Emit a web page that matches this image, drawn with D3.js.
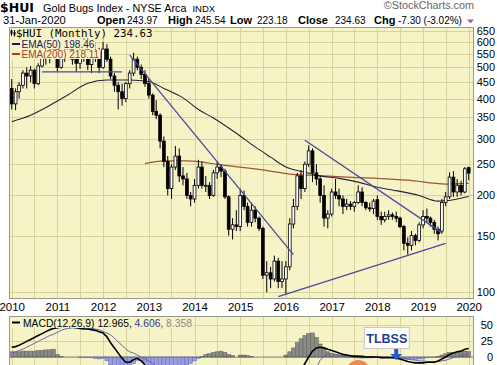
<!DOCTYPE html>
<html>
<head>
<meta charset="utf-8">
<script src="https://cdn.jsdelivr.net/npm/d3@7"></script>
<style>
  body { margin: 0; background: #fff; }
  svg { display: block; font-family: "Liberation Sans", Arial, sans-serif; }
</style>
</head>
<body>
<svg id="chart" width="497" height="365"></svg>
<script>
// ---- data (monthly, Jan 2010 .. Jan 2020) ----
const firstMonth = "2010-01";
const lastMonth = "2020-01";

const open = [
  430,385,420,440,480,470,490,445,505,540,545,560,
  570,500,555,550,575,530,515,560,600,510,550,560,
  500,570,530,470,440,420,400,445,480,530,500,475,
  445,410,365,355,295,255,210,245,265,230,225,200,
  195,215,245,215,215,200,235,245,238,198,157,162,
  160,200,185,165,180,170,158,113,115,110,125,108,
  110,120,163,185,230,210,250,275,235,225,200,170,
  175,205,200,195,185,188,185,190,205,190,183,182,
  194,172,168,172,174,172,170,160,142,140,150,145,
  162,172,170,165,157,155,190,198,228,205,215,205,
  243.97];
const high = [
  460,430,450,490,500,505,495,515,545,560,575,580,
  580,560,570,590,580,540,575,630,640,560,600,575,
  600,590,540,480,450,445,450,490,555,540,510,490,
  460,415,395,360,305,265,250,285,280,245,235,205,
  225,258,255,230,220,240,255,250,242,200,170,180,
  210,207,190,190,185,172,160,125,120,130,128,125,
  125,170,195,235,240,255,286,280,250,230,215,180,
  210,225,210,200,195,192,192,215,212,192,190,195,
  200,178,178,180,177,178,172,162,148,155,152,165,
  180,182,172,168,160,195,205,236,238,225,222,245,
  245.54];
const low = [
  370,368,400,430,430,450,430,440,500,510,515,540,
  485,495,520,530,510,485,495,520,490,480,520,480,
  495,520,460,420,370,380,390,430,470,490,460,435,
  400,355,345,280,245,200,195,240,220,215,195,185,
  190,210,210,205,195,198,225,228,195,150,146,155,
  155,180,160,160,165,155,110,100,103,108,103,103,
  99,117,158,180,195,205,245,220,215,190,160,158,
  172,195,185,175,180,180,178,188,185,180,178,175,
  168,162,165,168,168,165,158,135,131,135,140,143,
  158,165,160,152,145,152,185,195,198,198,200,203,
  223.18];
const close = [
  385,420,440,480,470,490,445,505,540,545,560,570,
  500,555,550,575,530,515,560,600,510,550,560,500,
  570,530,470,440,420,400,445,480,530,500,475,445,
  410,365,355,295,255,210,245,265,230,225,200,195,
  215,245,215,215,200,235,245,238,198,157,162,160,
  200,185,165,180,170,158,113,115,110,125,108,110,
  120,163,185,230,210,250,275,235,225,200,170,175,
  205,200,195,185,188,185,190,205,190,183,182,192,
  172,168,172,174,172,170,160,142,140,150,145,162,
  172,170,165,157,152,190,198,228,205,215,205,241.93,
  234.63];

// moving averages
const ema50Dates = ["2010-01","2010-06","2011-03","2011-09","2012-02","2012-08","2013-01","2013-05",
  "2013-10","2014-02","2014-06","2014-12","2015-05","2015-09","2016-01","2016-06","2016-10",
  "2017-03","2017-08","2018-01","2018-05","2018-12","2019-05","2019-09","2020-01"];
const ema50Values = [339,355,405,446,457,457,452,430,402,370,348,312,283,263,245,236,230,226,220,212,208,200,192,194,198.46];

const ema200Dates = ["2012-12","2013-05","2013-11","2014-08","2015-07","2016-02","2016-08","2017-05",
  "2018-01","2018-09","2019-07","2020-01"];
const ema200Values = [251,256,256,249,240,233,231,228,226,223,217,218.11];

// hand drawn trend lines: [start date, start value, end date, end value]
const trendLines = [
  ["2010-09", 484, "2012-06", 484],
  ["2012-08", 546, "2016-03", 131],
  ["2016-06", 297, "2019-06", 153],
  ["2015-11", 97, "2019-07", 142]
];

// MACD(12,26,9)
const macd = [
  15,16,18,21,24,27,30,33,36,39,42,44,
  45,46,46,46,46,45,44,43,43,42,41,39,
  37,31,22,14,6,-2,-8,-8,-4,-2,-6,-12,
  -18,-25,-32,-42,-50,-58,-62,-63,-64,-64,-65,-66,
  -64,-60,-56,-52,-49,-45,-42,-40,-40,-42,-44,-46,
  -45,-45,-46,-47,-48,-49,-51,-54,-57,-58,-60,-62,
  -58,-50,-40,-30,-20,-10,0,9,14,15,14,12,
  10,8,6,4,3,2,1,1,0.5,0,0,0,
  0,-1,-1,-1,-1,-2,-3,-5,-7,-8,-9,-9,
  -9,-8,-8,-8,-6,-3,0,4,6,8,9,12,
  12.965];
const signal = [
  6,8,10,12,15,18,21,24,27,30,33,35,
  38,41,43,44,45,45,45,45,44,44,43,42,
  39,37,34,29,23,18,12,8,6,3,0,-3,
  -6,-10,-14,-20,-26,-32,-38,-43,-47,-50,-53,-56,
  -58,-58,-57,-56,-54,-52,-50,-49,-47,-46,-46,-46,
  -48,-48,-48,-48,-48,-49,-50,-53,-56,-57,-59,-62,
  -61,-58,-54,-52,-48,-43,-36,-28,-16,-5,1,4,
  6,4,3,1,0,0,-1,-1,-1.5,-1,-1,-1,
  0,0,-0.5,-0.5,-1,-1,-1.5,-2,-3,-4,-5,-6,
  -6,-7,-7,-7,-7,-6,-5,-3,-1,1,2,3,
  4.606];
const histogram = [
  8,8,8,9,9,9,9,10,10,11,11,12,
  4,1,0,0,0,0,-1,-1,-1,-1,-2,-3,
  -2,-6,-12,-15,-17,-20,-20,-16,-10,-5,-6,-9,
  -12,-15,-18,-22,-24,-26,-24,-20,-17,-14,-12,-10,
  -6,-2,1,4,5,7,8,9,7,4,2,0,
  3,3,2,1,0,0,0,0,0,0,0,0,
  3,8,14,22,28,33,36,37,30,20,13,8,
  4,4,3,3,3,2,2,2,2,1,1,1,
  0,-1,-0.5,-0.5,0,-1,-1.5,-3,-4,-4,-4,-3,
  -3,-1,-1,-1,1,3,5,7,7,7,7,9,
  8.358];

const priceTicks = [100,150,200,250,300,350,400,450,500,550,600,650];
const macdTicks = [0,25,50];

// ---- layout ----
const W = 497, H = 365;
const mainP = { left: 9, right: 474, top: 27, bottom: 299 };
const macdP = { left: 9, right: 474, top: 316, bottom: 385 };
const panelBg = "#f6f3c6";
const gridColor = "#d8d29c";
const frameColor = "#9a9a8a";

const parseMonth = d3.timeParse("%Y-%m");
const months = d3.timeMonth.range(parseMonth(firstMonth), d3.timeMonth.offset(parseMonth(lastMonth), 1));

const x = d3.scaleTime()
    .domain([parseMonth("2010-01"), parseMonth("2020-01")])
    .range([11.7, 468.7]);

const y = d3.scaleLog()
    .domain([100, 650])
    .range([292.3, 30.7]);

const yM = d3.scaleLinear()
    .domain([0, 50])
    .range([357, 324.5]);

const svg = d3.select("#chart");
svg.append("rect").attr("width", W).attr("height", H).attr("fill", "#fff");

const defs = svg.append("defs");
[["clipMain", mainP], ["clipMacd", macdP]].forEach(([id, p]) => {
    defs.append("clipPath").attr("id", id)
        .append("rect")
        .attr("x", p.left).attr("y", p.top)
        .attr("width", p.right - p.left).attr("height", p.bottom - p.top);
});

// panel backgrounds
[mainP, macdP].forEach(p => {
    svg.append("rect")
        .attr("x", p.left).attr("y", p.top)
        .attr("width", p.right - p.left).attr("height", p.bottom - p.top)
        .attr("fill", panelBg);
});

// vertical grid every six months, both panels
const halfYears = d3.timeMonth.every(6).range(parseMonth("2010-01"), parseMonth("2020-02"));
[mainP, macdP].forEach(p => {
    svg.append("g").selectAll("line")
        .data(halfYears)
        .enter().append("line")
        .attr("x1", d => Math.round(x(d)) + 0.5).attr("x2", d => Math.round(x(d)) + 0.5)
        .attr("y1", p.top).attr("y2", p.bottom)
        .attr("stroke", gridColor).attr("stroke-width", 1);
});

// horizontal grid
svg.append("g").selectAll("line")
    .data(priceTicks)
    .enter().append("line")
    .attr("x1", mainP.left).attr("x2", mainP.right)
    .attr("y1", d => Math.round(y(d)) + 0.5).attr("y2", d => Math.round(y(d)) + 0.5)
    .attr("stroke", gridColor);

svg.append("g").selectAll("line")
    .data(macdTicks)
    .enter().append("line")
    .attr("x1", macdP.left).attr("x2", macdP.right)
    .attr("y1", d => Math.round(yM(d)) + 0.5).attr("y2", d => Math.round(yM(d)) + 0.5)
    .attr("stroke", gridColor);

// ---- price panel ----
const gMain = svg.append("g").attr("clip-path", "url(#clipMain)");

const ema200Line = d3.line()
    .x((d, i) => x(parseMonth(ema200Dates[i])))
    .y(d => y(d))
    .curve(d3.curveMonotoneX);
gMain.append("path")
    .datum(ema200Values)
    .attr("d", ema200Line)
    .attr("fill", "none")
    .attr("stroke", "#a0523a")
    .attr("stroke-width", 1.2);

const ema50Line = d3.line()
    .x((d, i) => x(parseMonth(ema50Dates[i])))
    .y(d => y(d))
    .curve(d3.curveMonotoneX);
gMain.append("path")
    .datum(ema50Values)
    .attr("d", ema50Line)
    .attr("fill", "none")
    .attr("stroke", "#23233f")
    .attr("stroke-width", 1.1);

// candles
const candleW = 2.8;
const candles = gMain.append("g").selectAll("g")
    .data(months)
    .enter().append("g");

candles.append("line")
    .attr("x1", d => x(d)).attr("x2", d => x(d))
    .attr("y1", (d, i) => y(high[i])).attr("y2", (d, i) => y(low[i]))
    .attr("stroke", "#000").attr("stroke-width", 1);

candles.append("rect")
    .attr("x", d => x(d) - candleW / 2)
    .attr("y", (d, i) => y(Math.max(open[i], close[i])))
    .attr("width", candleW)
    .attr("height", (d, i) => Math.max(1, Math.abs(y(open[i]) - y(close[i]))))
    .attr("fill", (d, i) => close[i] >= open[i] ? "#fff" : "#000")
    .attr("stroke", "#000")
    .attr("stroke-width", 0.8);

// trend lines
gMain.append("g").selectAll("line")
    .data(trendLines)
    .enter().append("line")
    .attr("x1", d => x(parseMonth(d[0]))).attr("y1", d => y(d[1]))
    .attr("x2", d => x(parseMonth(d[2]))).attr("y2", d => y(d[3]))
    .attr("stroke", "#4a4a9e")
    .attr("stroke-width", 1.3);

// price legend (opaque background like the original)
const legend = svg.append("g");
function legendRow(gy, parts, dash, size) {
    const g = legend.append("g");
    const bg = g.append("rect").attr("fill", panelBg);
    if (dash) {
        g.append("line").attr("x1", 12).attr("x2", 20).attr("y1", gy - 3.5).attr("y2", gy - 3.5)
            .attr("stroke", dash).attr("stroke-width", 2);
    }
    const t = g.append("text").attr("x", dash ? 21.5 : 16).attr("y", gy).attr("font-size", size);
    parts.forEach(p => t.append("tspan").text(p.text).attr("fill", p.color)
        .attr("font-family", p.font || null));
    const bb = t.node().getBBox();
    bg.attr("x", 10).attr("y", gy - 8).attr("width", bb.x + bb.width - 9).attr("height", 9.5);
    return g;
}
const mono = "'DejaVu Sans Mono', monospace";
const row0 = legendRow(37, [{ text: "$HUI (Monthly) 234.63", color: "#000", font: mono }], null, 10.8);
row0.append("line").attr("x1", 11.5).attr("x2", 11.5).attr("y1", 29.5).attr("y2", 36).attr("stroke", "#000");
row0.append("rect").attr("x", 10.5).attr("y", 30.5).attr("width", 2).attr("height", 3.5).attr("fill", "#000");
row0.append("line").attr("x1", 14.5).attr("x2", 14.5).attr("y1", 30).attr("y2", 36.5).attr("stroke", "#000");
row0.append("rect").attr("x", 13.5).attr("y", 32).attr("width", 2).attr("height", 3).attr("fill", "#000");
legendRow(47.5, [{ text: "EMA(50) 198.46", color: "#1a1a5a" }], "#1a1a5a", 10);
legendRow(57.5, [{ text: "EMA(200) 218.11", color: "#a0402a" }], "#a0402a", 10);

// ---- MACD panel ----
const gMacd = svg.append("g").attr("clip-path", "url(#clipMacd)");
const barW = x(months[1]) - x(months[0]);

gMacd.append("g").selectAll("rect")
    .data(months)
    .enter().append("rect")
    .attr("x", d => x(d) - barW / 2)
    .attr("width", barW)
    .attr("y", (d, i) => histogram[i] >= 0 ? yM(histogram[i]) : yM(0))
    .attr("height", (d, i) => Math.abs(yM(histogram[i]) - yM(0)))
    .attr("fill", (d, i) => histogram[i] >= 0 ? "#8a8a86" : "#9c9ce0")
    .attr("stroke", (d, i) => histogram[i] >= 0 ? "#5e5e5a" : "#6a6ab8")
    .attr("stroke-width", 0.5);

gMacd.append("line")
    .attr("x1", macdP.left).attr("x2", macdP.right)
    .attr("y1", yM(0)).attr("y2", yM(0))
    .attr("stroke", "#555").attr("stroke-width", 0.6);

gMacd.append("path")
    .datum(signal)
    .attr("d", d3.line().x((d, i) => x(months[i])).y(d => yM(d)))
    .attr("fill", "none").attr("stroke", "#6a62b0").attr("stroke-width", 1);

gMacd.append("path")
    .datum(macd)
    .attr("d", d3.line().x((d, i) => x(months[i])).y(d => yM(d)))
    .attr("fill", "none").attr("stroke", "#000").attr("stroke-width", 1.6);

// annotation circle near the MACD zero cross
gMacd.append("circle")
    .attr("cx", x(parseMonth("2017-08")))
    .attr("cy", yM(-23))
    .attr("r", 12)
    .attr("fill", "#f0894e");

// TLBSS call-out
const tlX = x(parseMonth("2018-06"));
const tl = svg.append("g");
tl.append("rect")
    .attr("x", tlX - 32).attr("y", 327.5)
    .attr("width", 45).attr("height", 21)
    .attr("fill", "#fff").attr("stroke", "#c8c8c8");
tl.append("text")
    .attr("x", tlX - 9.5).attr("y", 342.5)
    .attr("text-anchor", "middle")
    .attr("font-size", 12.5).attr("font-weight", "bold")
    .attr("fill", "#1f3c94")
    .text("TLBSS");
tl.append("path")
    .attr("d", `M${tlX - 2},349 h4 v5 h4 l-6,6 l-6,-6 h4 z`)
    .attr("fill", "#1e5cd6");

// MACD legend
const ml = svg.append("g");
const mlBg = ml.append("rect").attr("fill", panelBg);
ml.append("line").attr("x1", 12).attr("x2", 20).attr("y1", 322.5).attr("y2", 322.5)
    .attr("stroke", "#000").attr("stroke-width", 2);
const mt = ml.append("text").attr("x", 23).attr("y", 327).attr("font-size", 10.3);
mt.append("tspan").text("MACD(12,26,9) 12.965, ").attr("fill", "#000");
mt.append("tspan").text("4.606, ").attr("fill", "#3a3a8a");
mt.append("tspan").text("8.358").attr("fill", "#8a8a8a");
const mlb = mt.node().getBBox();
mlBg.attr("x", 10).attr("y", 317).attr("width", mlb.x + mlb.width - 9).attr("height", 11);

// panel frames
[mainP, macdP].forEach(p => {
    svg.append("rect")
        .attr("x", p.left + 0.5).attr("y", p.top + 0.5)
        .attr("width", p.right - p.left - 1).attr("height", p.bottom - p.top - 1)
        .attr("fill", "none").attr("stroke", frameColor);
});

// ---- axes ----
const yAxis = svg.append("g")
    .attr("transform", `translate(${W - 2},0)`)
    .call(d3.axisLeft(y).tickValues(priceTicks).tickFormat(d3.format("d")).tickSize(0).tickPadding(0));
yAxis.select(".domain").remove();
yAxis.selectAll("text").attr("font-size", 11).attr("font-family", "Liberation Sans, Arial, sans-serif").attr("fill", "#000");

const yMAxis = svg.append("g")
    .attr("transform", `translate(${W - 4},0)`)
    .call(d3.axisLeft(yM).tickValues(macdTicks).tickSize(0).tickPadding(0));
yMAxis.select(".domain").remove();
yMAxis.selectAll("text").attr("font-size", 11).attr("font-family", "Liberation Sans, Arial, sans-serif").attr("fill", "#000");

const xAxis = svg.append("g")
    .attr("transform", `translate(0,${mainP.bottom})`)
    .call(d3.axisBottom(x).ticks(d3.timeYear.every(1)).tickFormat(d3.timeFormat("%Y")).tickSize(0).tickPadding(4));
xAxis.select(".domain").remove();
xAxis.selectAll("text").attr("font-size", 11.5).attr("font-family", "Liberation Sans, Arial, sans-serif").attr("fill", "#000");

// ---- header ----
const head = svg.append("g");
head.append("text").attr("x", 0).attr("y", 12).attr("font-size", 12.5)
    .attr("font-family", "'DejaVu Sans', sans-serif").attr("font-weight", "bold").text("$HUI");
const title = head.append("text").attr("x", 43).attr("y", 11.5).attr("font-size", 10.8)
    .text("Gold Bugs Index - NYSE Arca");
const tb = title.node().getBBox();
head.append("text").attr("x", tb.x + tb.width + 6).attr("y", 11.5).attr("font-size", 9.5).text("INDX");
head.append("text").attr("x", 474).attr("y", 9).attr("font-size", 10.8).attr("text-anchor", "end")
    .attr("fill", "#666").text("\u00A9StockCharts.com");
head.append("text").attr("x", 3).attr("y", 24).attr("font-size", 11.2).text("31-Jan-2020");

const quote = [
    ["Open", 97, true], ["243.97", 127, false],
    ["High", 168, true], ["245.54", 195, false],
    ["Low", 230, true], ["223.18", 257, false],
    ["Close", 298, true], ["234.63", 335, false],
    ["Chg", 374, true], ["-7.30 (-3.02%)", 398, false]
];
head.selectAll("text.q")
    .data(quote)
    .enter().append("text")
    .attr("class", "q")
    .attr("x", d => d[1]).attr("y", 24)
    .attr("font-size", d => d[2] ? 11 : 10)
    .attr("font-weight", d => d[2] ? "bold" : "normal")
    .text(d => d[0]);
head.append("path").attr("d", "M467,19.5 h7 l-3.5,4 z").attr("fill", "#a8608a");
</script>
</body>
</html>
